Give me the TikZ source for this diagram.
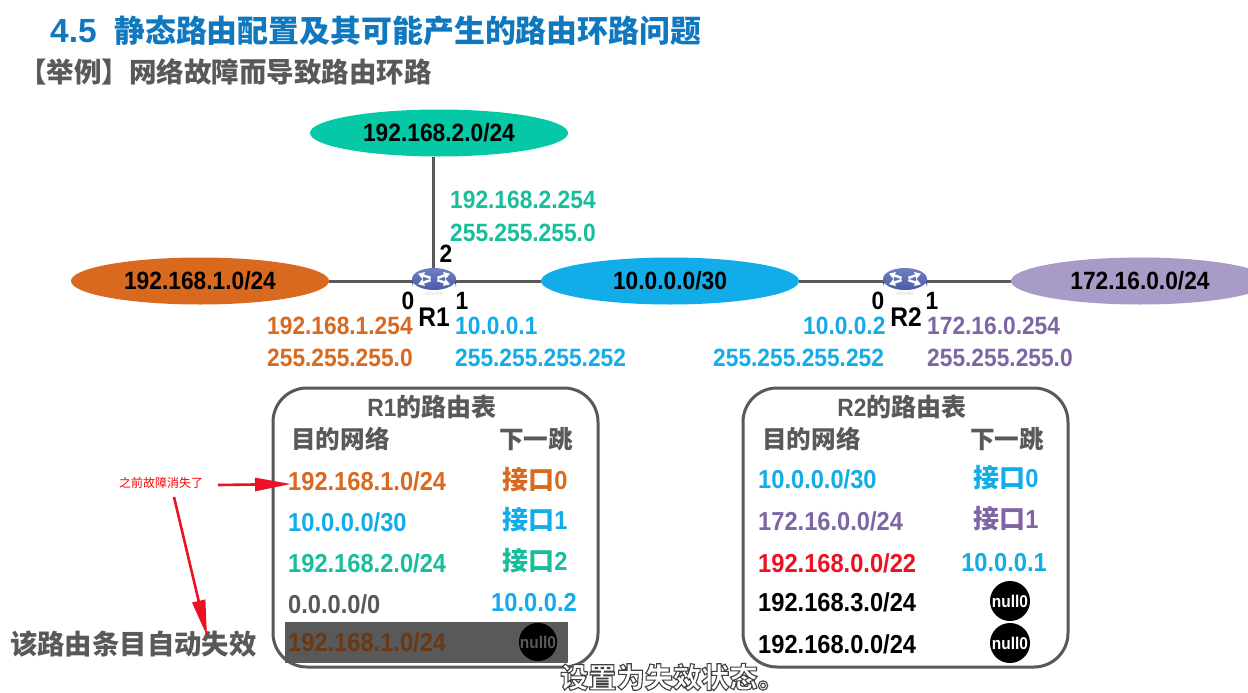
\documentclass[tikz,border=0pt]{standalone}
\usepackage{fontspec}
\setmainfont{Liberation Sans}[FakeStretch=0.91]
\newfontfamily\plainf{Liberation Sans}
\newfontfamily\cjk{Noto Sans CJK SC}
\usetikzlibrary{arrows.meta,shapes.geometric}
\definecolor{cgreen}{HTML}{17BE9C}
\definecolor{lgreen}{HTML}{05C8A6}
\definecolor{corange}{HTML}{D9691E}
\definecolor{cblue}{HTML}{12ACE8}
\definecolor{cpurple}{HTML}{7F64A6}
\definecolor{lpurple}{HTML}{A99BC8}
\definecolor{cgrey}{HTML}{595959}
\definecolor{cred}{HTML}{EE1023}
\definecolor{ctitle}{HTML}{0F78BE}
\definecolor{cbrown}{HTML}{6A3812}
\definecolor{rtop}{HTML}{6F7FC4}
\definecolor{rtopb}{HTML}{4C5BA6}
\definecolor{rside}{HTML}{3A4688}
\newcommand{\fs}[1]{\fontsize{#1}{#1}\selectfont}
\tikzset{
 x=1pt,y=-1pt,
 lan/.style={ellipse,draw=none,minimum width=258pt,minimum height=47pt,inner sep=0pt,font=\bfseries\fs{25},text=black},
 link/.style={draw=cgrey,line width=3pt},
 txt/.style={inner sep=0pt,font=\bfseries\fs{25}},
 tabt/.style={inner sep=0pt,font=\bfseries\fs{26}},
 port/.style={inner sep=0pt,font=\bfseries\fs{25},text=black},
 hdr/.style={inner sep=0pt,font=\bfseries\fs{25},text=cgrey},
 cjkt/.style={inner sep=0pt,font=\cjk\bfseries\fs{24.6},text=cgrey},
 tbl/.style={draw=cgrey,line width=3pt,rounded corners=34pt,fill=white},
 nullc/.style={circle,fill=black,minimum size=40pt,inner sep=0pt,font=\bfseries\fs{17},text=white},
 rtr/.style={ellipse,minimum width=44pt,minimum height=30pt,inner sep=0pt,draw=none,fill=none},
 redar/.style={draw=cred,line width=2.6pt,-{Triangle[length=36pt,width=13pt]}},
}
\newcommand{\routerdraw}[2]{%
 \begin{scope}[shift={(#1,#2)}]
  \fill[rside] (-22,-3) -- (-22,5) arc[start angle=180,end angle=360,x radius=22,y radius=12] -- (22,-3) -- cycle;
  \shade[top color=rtop,bottom color=rtopb] (0,-3) ellipse[x radius=22,y radius=11];
  \foreach \a in {32,148,212,328}{
   \begin{scope}[shift={(0,-3)},xscale=1.35,yscale=.72,rotate=\a]
    \draw[white,line width=2.4pt,-{Triangle[length=6pt,width=7pt]}] (3,0) -- (14,0);
   \end{scope}}
  \node[inner sep=0pt,text=white!80!rside,font=\plainf\bfseries\fs{4}] at (0,12.5) {ROUTER};
 \end{scope}}
\begin{document}
\begin{tikzpicture}
\useasboundingbox (0,0) rectangle (1248,693);
\fill[white] (0,0) rectangle (1248,693);
% titles
\node[anchor=west,inner sep=0pt,text=ctitle,font=\plainf\bfseries\fs{33.5}] (t45) at (50,31) {4.5};
\node[anchor=west,inner sep=0pt,text=ctitle,font=\cjk\bfseries\fs{30.9}] (title) at (114,31) {静态路由配置及其可能产生的路由环路问题};
\node[anchor=west,inner sep=0pt,text=cgrey,font=\cjk\bfseries\fs{27.5}] (sub) at (19,72) {【举例】网络故障而导致路由环路};
% topology
\node[lan,fill=lgreen] (n2) at (439,133) {192.168.2.0/24};
\node[lan,fill=corange] (n1) at (200,281) {192.168.1.0/24};
\node[lan,fill=cblue] (n10) at (670,281) {10.0.0.0/30};
\node[lan,fill=lpurple] (n172) at (1140,281) {172.16.0.0/24};
\node[rtr] (r1) at (433,281) {};
\node[rtr] (r2) at (905,281) {};
\draw[link] (n2.south -| r1) -- (r1.center);
\draw[link] (n1.east) -- (r1.center);
\draw[link] (r1.center) -- (n10.west);
\draw[link] (n10.east) -- (r2.center);
\draw[link] (r2.center) -- (n172.west);
\routerdraw{434}{282}
\routerdraw{905}{282}
\node[port] (p12) at (446,254) {2};
\node[port] (p10) at (408,301) {0};
\node[port] (p11) at (462,301) {1};
\node[port,font=\bfseries\fs{27}] (lr1) at (434,317) {R1};
\node[port] (p20) at (878,301) {0};
\node[port] (p21) at (932,301) {1};
\node[port,font=\bfseries\fs{27}] (lr2) at (906,317) {R2};
% address labels
\node[txt,text=cgreen,anchor=west] (a1) at (450,200) {192.168.2.254};
\node[txt,text=cgreen,anchor=west] (a2) at (450,233) {255.255.255.0};
\node[txt,text=corange,anchor=west] (a3) at (267,326) {192.168.1.254};
\node[txt,text=corange,anchor=west] (a4) at (267,358) {255.255.255.0};
\node[txt,text=cblue,anchor=west] (a5) at (455,326) {10.0.0.1};
\node[txt,text=cblue,anchor=west] (a6) at (455,358) {255.255.255.252};
\node[txt,text=cblue,anchor=west] (a7) at (803,326) {10.0.0.2};
\node[txt,text=cblue,anchor=west] (a8) at (713,358) {255.255.255.252};
\node[txt,text=cpurple,anchor=west] (a9) at (927,326) {172.16.0.254};
\node[txt,text=cpurple,anchor=west] (a10) at (927,358) {255.255.255.0};
% R1 table
\draw[tbl] (273,388) rectangle (598,667);
\node[hdr] (h1) at (432,407) {R1{\cjk 的路由表}};
\node[cjkt,anchor=west] (h1a) at (291,439) {目的网络};
\node[cjkt] (h1b) at (536,439) {下一跳};
\node[tabt,text=corange,anchor=west] (r1a) at (288,481) {192.168.1.0/24};
\node[tabt,text=corange] (r1b) at (535,480) {{\cjk 接口}0};
\node[tabt,text=cblue,anchor=west] (r1c) at (288,522) {10.0.0.0/30};
\node[tabt,text=cblue] (r1d) at (535,520) {{\cjk 接口}1};
\node[tabt,text=cgreen,anchor=west] (r1e) at (288,563) {192.168.2.0/24};
\node[tabt,text=cgreen] (r1f) at (535,561) {{\cjk 接口}2};
\node[tabt,text=cgrey,anchor=west] (r1g) at (288,604) {0.0.0.0/0};
\node[tabt,text=cblue] (r1h) at (534,603) {10.0.0.2};
\fill[cgrey] (285,622) rectangle (568,663);
\node[tabt,text=cbrown,anchor=west] (r1i) at (288,642) {192.168.1.0/24};
\node[nullc,minimum size=38pt,text=cgrey] (r1j) at (538,642) {null0};
% R2 table
\draw[tbl] (743,388) rectangle (1068,667);
\node[hdr] (h2) at (902,407) {R2{\cjk 的路由表}};
\node[cjkt,anchor=west] (h2a) at (762,439) {目的网络};
\node[cjkt] (h2b) at (1007,439) {下一跳};
\node[tabt,text=cblue,anchor=west] (s1) at (758,479) {10.0.0.0/30};
\node[tabt,text=cblue] (s2) at (1006,478) {{\cjk 接口}0};
\node[tabt,text=cpurple,anchor=west] (s3) at (758,521) {172.16.0.0/24};
\node[tabt,text=cpurple] (s4) at (1006,519) {{\cjk 接口}1};
\node[tabt,text=cred,anchor=west] (s5) at (758,563) {192.168.0.0/22};
\node[tabt,text=cblue] (s6) at (1004,563) {10.0.0.1};
\node[tabt,text=black,anchor=west] (s7) at (758,602) {192.168.3.0/24};
\node[nullc] (s8) at (1010,601) {null0};
\node[tabt,text=black,anchor=west] (s9) at (758,644) {192.168.0.0/24};
\node[nullc] (s10) at (1010,643) {null0};
% annotation
\node[inner sep=0pt,text=red,font=\cjk\fs{12}] (note) at (161,483) {之前故障消失了};
\node[cjkt,anchor=west,font=\cjk\bfseries\fs{27.4}] (fail) at (10,644) {该路由条目自动失效};
\coordinate (n0a) at (218,485);
\coordinate (n0e) at (291,484);
\coordinate (n0b) at (174,497);
\coordinate (n0c) at (207,636);
\draw[redar] (n0a) -- (n0e);
\draw[redar] (n0b) -- (n0c);
% subtitle
\node[inner sep=0pt,anchor=west,text=white,font=\cjk\bfseries\fs{28.2}] (cap) at (560,677) {\special{pdf:code q 2 Tr 1.1 w 0.25 G}设置为失效状态。\special{pdf:code Q}};
\end{tikzpicture}
\end{document}
